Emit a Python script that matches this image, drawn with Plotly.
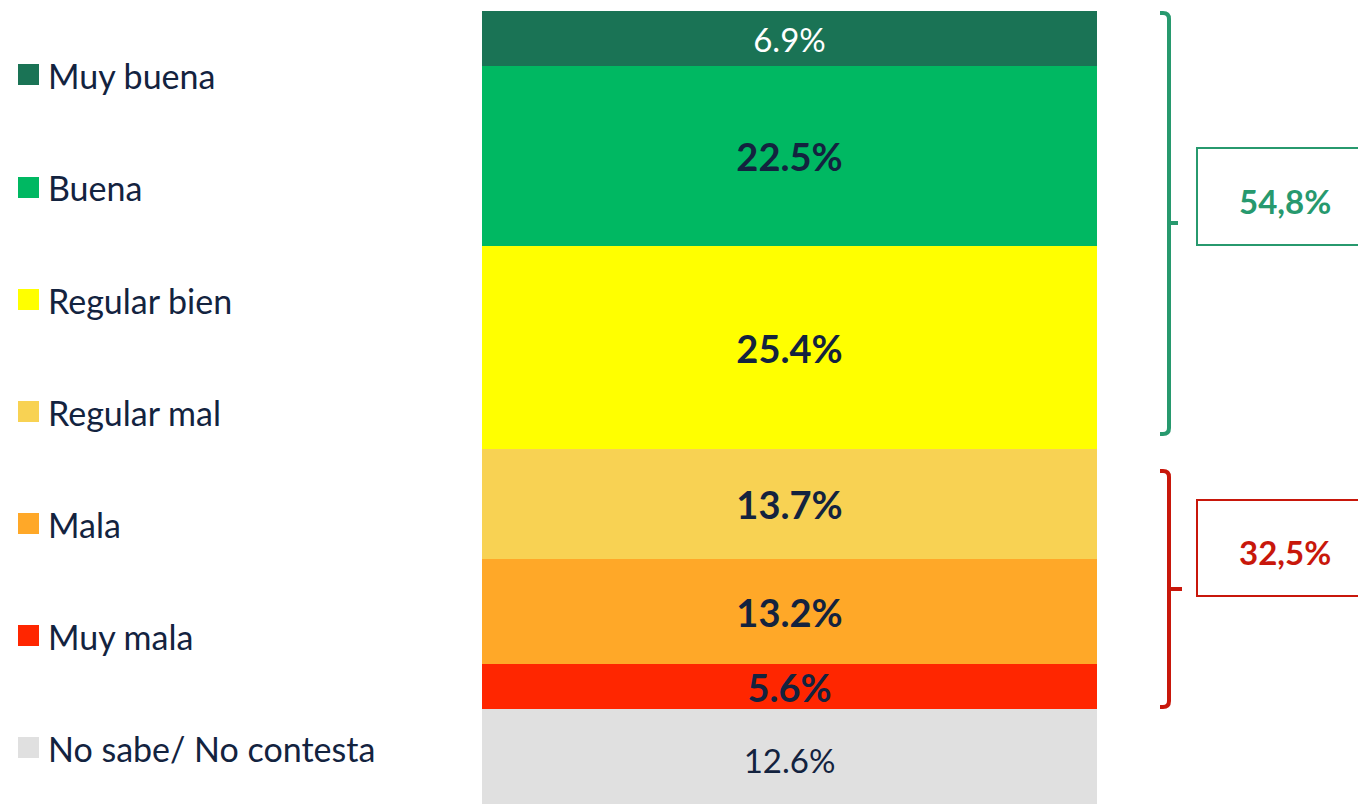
import plotly.graph_objects as go

# ---- data ----
categories = ["Muy buena", "Buena", "Regular bien", "Regular mal", "Mala", "Muy mala", "No sabe/ No contesta"]
values = [6.9, 22.5, 25.4, 13.7, 13.2, 5.6, 12.6]
colors = ["#1A7355", "#00B862", "#FFFF00", "#F8D253", "#FFA828", "#FF2600", "#E0E0E0"]
label_bold = [False, True, True, True, True, True, False]
label_color = ["#FFFFFF", "#13233F", "#13233F", "#13233F", "#13233F", "#13233F", "#13233F"]
group_labels = ["54,8%", "32,5%"]
group_colors = ["#27996E", "#C8170B"]

W, H = 1358, 804
FONT = "Lato"
NAVY = "#13233F"

fig = go.Figure()

# stacked bar: bottom trace first
for i in reversed(range(len(categories))):
    txt = f"{values[i]:.1f}%"
    size = 33
    if label_bold[i]:
        txt = f"<b>{txt}</b>"
        size = 38
    fig.add_trace(go.Bar(
        x=["Total"], y=[values[i]], name=categories[i],
        marker=dict(color=colors[i], line=dict(width=0)),
        text=[txt], textposition="inside", insidetextanchor="middle",
        constraintext="none", textangle=0,
        textfont=dict(family=FONT, size=size, color=label_color[i]),
        hoverinfo="skip", showlegend=False,
    ))

# axis ranges: bar spans x pixels 482..1097, one category of width 1
bar_left, bar_right = 482, 1097
ppu = bar_right - bar_left
x0 = -0.5 - bar_left / ppu
x1 = 0.5 + (W - bar_right) / ppu

fig.update_layout(
    width=W, height=H, margin=dict(l=0, r=0, t=0, b=0),
    paper_bgcolor="white", plot_bgcolor="white",
    barmode="stack", bargap=0,
    xaxis=dict(range=[x0, x1], visible=False, fixedrange=True),
    yaxis=dict(range=[0.75, 101.25], visible=False, fixedrange=True),
    showlegend=False,
)

def px(xp):
    return xp / W

def py(yp):
    return 1 - yp / H

# custom legend
legend_y = [75, 188, 300, 412, 524, 636, 748]
for cat, col, ly in zip(categories, colors, legend_y):
    fig.add_shape(type="rect", xref="paper", yref="paper",
                  x0=px(18), x1=px(39), y0=py(ly - 11), y1=py(ly + 10),
                  fillcolor=col, line=dict(width=0))
    fig.add_annotation(xref="paper", yref="paper", x=px(46), y=py(ly),
                       text=cat, showarrow=False, xanchor="left", yanchor="middle",
                       font=dict(family=FONT, size=34, color=NAVY))

# brackets
def bracket(top, bottom, mid, tick_end, color):
    xv = 1169
    r = 6
    path = (f"M {px(1160)},{py(top)} L {px(xv - r)},{py(top)} "
            f"Q {px(xv)},{py(top)} {px(xv)},{py(top + r)} "
            f"L {px(xv)},{py(bottom - r)} "
            f"Q {px(xv)},{py(bottom)} {px(xv - r)},{py(bottom)} L {px(1160)},{py(bottom)}")
    fig.add_shape(type="path", xref="paper", yref="paper", path=path,
                  line=dict(color=color, width=4))
    fig.add_shape(type="line", xref="paper", yref="paper",
                  x0=px(xv), x1=px(tick_end), y0=py(mid), y1=py(mid),
                  line=dict(color=color, width=4))

bracket(13, 434, 223, 1178, group_colors[0])
bracket(471, 707, 589, 1182, group_colors[1])

# boxes with totals
boxes = [(148, 245), (500, 596)]
for (bt, bb), lab, col in zip(boxes, group_labels, group_colors):
    fig.add_shape(type="rect", xref="paper", yref="paper",
                  x0=px(1197), x1=px(1370), y0=py(bb), y1=py(bt),
                  line=dict(color=col, width=2), fillcolor="rgba(0,0,0,0)")
    fig.add_annotation(xref="paper", yref="paper", x=px(1285), y=py((bt + bb) / 2 + 4),
                       text=f"<b>{lab}</b>", showarrow=False, xanchor="center", yanchor="middle",
                       font=dict(family=FONT, size=33, color=col))

fig.write_html("out.html", config={"displayModeBar": False},
               post_script="document.body.style.margin='0';")
